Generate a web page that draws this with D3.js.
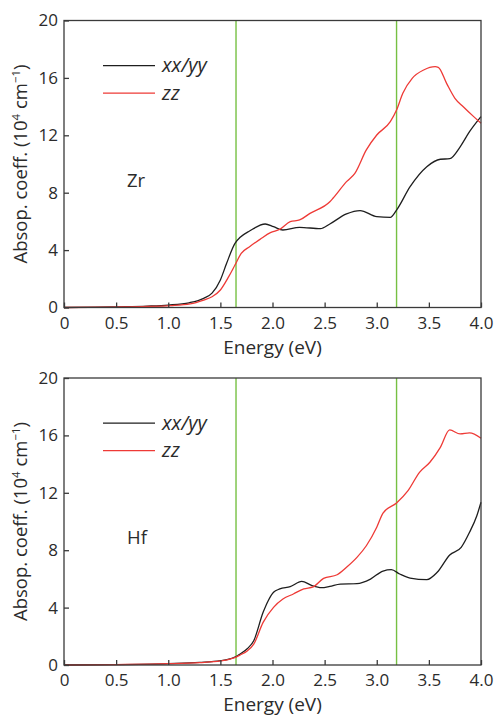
<!DOCTYPE html>
<html>
<head>
<meta charset="utf-8">
<script src="https://cdn.jsdelivr.net/npm/d3@7"></script>
<style>
  body { margin: 0; background: #fff; }
  svg text { font-family: "Open Sans", "Noto Sans", sans-serif; fill: #2b2b2b; }
</style>
</head>
<body>
<div id="chart"></div>
<script>
// Read-off values, [energy eV, absorption 1e4 cm^-1]
var zrXx = [[0,0],[0.3,0.02],[0.5,0.05],[0.8,0.1],[1.0,0.17],[1.2,0.33],[1.34,0.64],[1.42,1.0],[1.5,1.92],[1.56,3.08],[1.64,4.47],[1.69,4.89],[1.78,5.33],[1.93,5.82],[2.01,5.63],[2.1,5.4],[2.26,5.59],[2.46,5.49],[2.55,5.82],[2.71,6.52],[2.84,6.75],[3.0,6.33],[3.13,6.28],[3.19,6.79],[3.32,8.42],[3.48,9.81],[3.61,10.33],[3.7,10.37],[3.8,11.2],[3.89,12.25],[4.0,13.3]];
var zrZz = [[0,0],[0.5,0.03],[0.8,0.07],[1.02,0.13],[1.21,0.25],[1.34,0.52],[1.42,0.75],[1.5,1.22],[1.58,2.15],[1.64,2.96],[1.7,3.77],[1.78,4.24],[1.88,4.75],[1.98,5.22],[2.07,5.45],[2.17,5.98],[2.26,6.1],[2.36,6.56],[2.55,7.37],[2.58,7.61],[2.71,8.77],[2.79,9.35],[2.9,10.98],[3.0,12.02],[3.13,12.95],[3.19,13.76],[3.25,14.93],[3.34,15.97],[3.45,16.55],[3.56,16.78],[3.59,16.74],[3.67,15.62],[3.75,14.58],[3.83,13.99],[3.93,13.3],[4.0,12.84]];
var hfXx = [[0,0],[0.5,0.03],[1.0,0.1],[1.3,0.18],[1.5,0.3],[1.6,0.45],[1.65,0.58],[1.69,0.77],[1.76,1.15],[1.82,1.69],[1.91,3.67],[1.96,4.5],[2.01,5.07],[2.07,5.3],[2.17,5.46],[2.28,5.83],[2.38,5.53],[2.47,5.39],[2.55,5.48],[2.65,5.64],[2.81,5.67],[2.94,5.99],[3.06,6.55],[3.14,6.64],[3.22,6.34],[3.32,6.06],[3.48,5.95],[3.58,6.46],[3.7,7.67],[3.81,8.2],[3.89,9.25],[3.96,10.4],[4.0,11.34]];
var hfZz = [[0,0],[0.5,0.03],[1.0,0.09],[1.3,0.17],[1.5,0.28],[1.6,0.43],[1.65,0.55],[1.69,0.7],[1.76,1.0],[1.82,1.46],[1.91,2.97],[2.01,4.02],[2.1,4.6],[2.2,4.95],[2.3,5.3],[2.39,5.44],[2.49,6.04],[2.62,6.29],[2.71,6.81],[2.81,7.5],[2.9,8.31],[3.0,9.6],[3.06,10.59],[3.19,11.29],[3.3,12.15],[3.41,13.43],[3.51,14.13],[3.61,15.17],[3.7,16.38],[3.8,16.1],[3.89,16.17],[4.0,15.8]];

var xTicks = [0,0.5,1.0,1.5,2.0,2.5,3.0,3.5,4.0];
var yTicks = [0,4,8,12,16,20];
var markers = [1.65,3.19];
var legendNames = ["xx/yy","zz"];

var colors = {xx: "#1e1e1e", zz: "#ee3a36", green: "#76c043", axis: "#3a3a3a"};

var svg = d3.select("#chart").append("svg")
    .attr("width", 496).attr("height", 717);

function drawPanel(top, label, labelDy, xx, zz){
    var margin = {left: 64, right: 481},
        height = 287;
    var x = d3.scaleLinear().domain([0,4]).range([margin.left, margin.right]);
    var y = d3.scaleLinear().domain([0,20]).range([top + height, top]);

    var g = svg.append("g");

    // green marker lines
    g.selectAll(".mark").data(markers).enter().append("line")
        .attr("x1", d => x(d)).attr("x2", d => x(d))
        .attr("y1", y(0)).attr("y2", y(20))
        .attr("stroke", colors.green).attr("stroke-width", 1.4);

    var line = d3.line().x(d => x(d[0])).y(d => y(d[1])).curve(d3.curveMonotoneX);
    g.append("path").datum(xx).attr("d", line)
        .attr("fill", "none").attr("stroke", colors.xx).attr("stroke-width", 1.3);
    g.append("path").datum(zz).attr("d", line)
        .attr("fill", "none").attr("stroke", colors.zz).attr("stroke-width", 1.3);

    // frame
    g.append("rect")
        .attr("x", x(0)).attr("y", y(20))
        .attr("width", x(4) - x(0)).attr("height", y(0) - y(20))
        .attr("fill", "none").attr("stroke", colors.axis).attr("stroke-width", 1.3);

    // axes with inward ticks
    var xAxis = g.append("g")
        .attr("transform", "translate(0," + y(0) + ")")
        .call(d3.axisBottom(x).tickValues(xTicks).tickSizeInner(-5).tickSizeOuter(0)
              .tickPadding(9).tickFormat(d => d === 0 ? "0" : d3.format(".1f")(d)));
    var yAxis = g.append("g")
        .attr("transform", "translate(" + x(0) + ",0)")
        .call(d3.axisLeft(y).tickValues(yTicks).tickSizeInner(-5).tickSizeOuter(0)
              .tickPadding(6));
    [xAxis, yAxis].forEach(function(a){
        a.select(".domain").remove();
        a.selectAll("line").attr("stroke", colors.axis).attr("stroke-width", 1.3);
        a.selectAll("text").style("font-size", "17px").attr("fill", "#2b2b2b");
    });

    // x label
    g.append("text")
        .attr("x", (x(0) + x(4)) / 2).attr("y", y(0) + 46.3)
        .attr("text-anchor", "middle")
        .style("font-size", "19px")
        .text("Energy (eV)");

    // y label
    var yl = g.append("text")
        .attr("transform", "translate(27," + (top + height / 2) + ") rotate(-90)")
        .attr("text-anchor", "middle")
        .style("font-size", "18.5px");
    yl.append("tspan").text("Absop. coeff. (10");
    yl.append("tspan").attr("dy", -7).style("font-size", "11.5px").text("4");
    yl.append("tspan").attr("dy", 7).text(" cm");
    yl.append("tspan").attr("dy", -7).style("font-size", "11.5px").text("\u22121");
    yl.append("tspan").attr("dy", 7).text(")");

    // legend
    var lg = g.selectAll(".leg").data(legendNames).enter().append("g")
        .attr("transform", (d, i) => "translate(0," + (top + 45.2 + i * 27.5) + ")");
    lg.append("line")
        .attr("x1", 103).attr("x2", 155).attr("y1", 0).attr("y2", 0)
        .attr("stroke", (d, i) => i === 0 ? colors.xx : colors.zz)
        .attr("stroke-width", 1.3);
    lg.append("text")
        .attr("x", 162).attr("y", 6.5)
        .style("font-size", "20px").style("font-style", "italic")
        .text(d => d);

    // material label
    g.append("text")
        .attr("x", 127).attr("y", top + labelDy)
        .style("font-size", "18.5px")
        .text(label);
}

drawPanel(20.5, "Zr", 166, zrXx, zrZz);
drawPanel(378, "Hf", 166, hfXx, hfZz);
</script>
</body>
</html>
